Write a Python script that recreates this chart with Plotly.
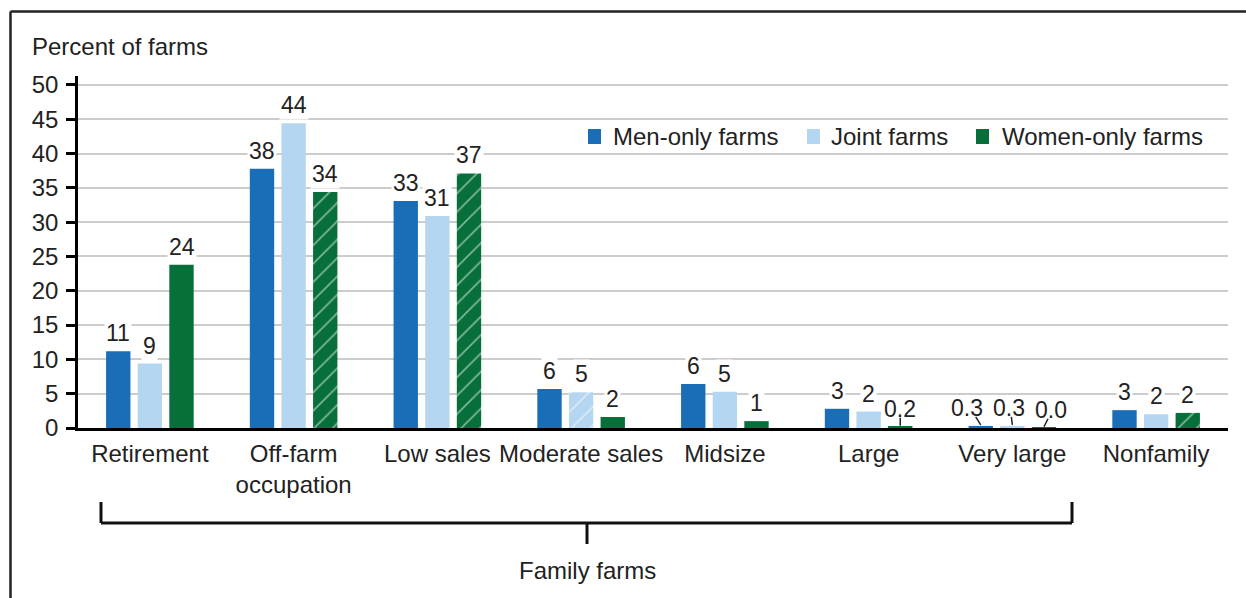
import plotly.graph_objects as go

# ---- data -------------------------------------------------------------
categories = ["Retirement", "Off-farm<br>occupation", "Low sales", "Moderate sales",
              "Midsize", "Large", "Very large", "Nonfamily"]
series_names = ["Men-only farms", "Joint farms", "Women-only farms"]
men_only = [11.2, 37.8, 33.1, 5.7, 6.4, 2.8, 0.3, 2.6]
joint = [9.4, 44.4, 30.9, 5.2, 5.3, 2.4, 0.3, 2.0]
women_only = [23.8, 34.4, 37.1, 1.6, 1.0, 0.2, 0.04, 2.2]
# bars drawn with a diagonal hatch
men_hatch = ["", "", "", "", "", "", "", ""]
joint_hatch = ["", "", "", "/", "", "", "", ""]
women_hatch = ["", "/", "/", "", "", "", "", "/"]
y_ticks = [0, 5, 10, 15, 20, 25, 30, 35, 40, 45, 50]

# ---- styling ----------------------------------------------------------
colors = ["#1a6db7", "#b4d6f0", "#07703a"]
FONT = "Liberation Sans, Arial, sans-serif"
TXT = "#222222"
FS_LABEL = 23   # value labels
FS_TEXT = 24    # axis text, legend, bracket caption

W, H = 1246, 598
L, R, T, B = 78, 18, 76, 170
PW, PH = W - L - R, H - T - B
Y_MAX = 51.3
BARGAP = 0.34
STEP = (1 - BARGAP) / 3  # distance between bar centres within a group


def px_x(px):
    return (px - L) / PW


def px_y(py):
    return (H - B - py) / PH


fig = go.Figure()
values = [men_only, joint, women_only]
hatches = [men_hatch, joint_hatch, women_hatch]
xs = list(range(len(categories)))
for name, vals, hatch, col in zip(series_names, values, hatches, colors):
    fig.add_trace(go.Bar(
        x=xs, y=vals, name=name, showlegend=False,
        marker=dict(color=col, line=dict(width=0),
                    pattern=dict(shape=hatch, fgcolor="white", size=13,
                                 solidity=0.12, fillmode="overlay")),
        hoverinfo="skip",
    ))


def fmt(v):
    return f"{v:.1f}" if v < 0.95 else f"{v:.0f}"


# small values get nudged labels with a short leader to the bar
# (series index, category index): (label dx, leader top dx)
nudges = {(2, 5): (0, 0), (0, 6): (-14, -5), (1, 6): (-3, -1), (2, 6): (7, 4)}

annotations = []
shapes = []
for j, vals in enumerate(values):
    for i, v in enumerate(vals):
        xc = i + (j - 1) * STEP
        small = v < 0.95
        dx, ldx = nudges.get((j, i), (0, 0))
        annotations.append(dict(
            x=xc, y=v, xref="x", yref="y", text=fmt(v), showarrow=False,
            xanchor="center", yanchor="bottom", yshift=3, xshift=dx,
            font=dict(family=FONT, size=FS_LABEL, color=TXT),
            bgcolor="rgba(0,0,0,0)" if small else "white", borderpad=1,
        ))
        if small:
            shapes.append(dict(
                type="line", xref="x", yref="y",
                xsizemode="pixel", xanchor=xc, x0=0, x1=ldx,
                ysizemode="pixel", yanchor=v, y0=1, y1=9,
                line=dict(color=TXT, width=1.5),
            ))

# axis title
annotations.append(dict(
    x=px_x(30), y=px_y(46), xref="paper", yref="paper", text="Percent of farms",
    showarrow=False, xanchor="left", yanchor="middle",
    font=dict(family=FONT, size=FS_TEXT, color=TXT),
))

# legend
legend_items = [(588, 611), (807, 829), (976, 1000)]
for (sq_x, tx), name, col in zip(legend_items, series_names, colors):
    shapes.append(dict(type="rect", xref="paper", yref="paper",
                       x0=px_x(sq_x), x1=px_x(sq_x + 13),
                       y0=px_y(144), y1=px_y(129),
                       fillcolor=col, line=dict(width=0)))
    annotations.append(dict(
        x=px_x(tx), y=px_y(136), xref="paper", yref="paper", text=name,
        showarrow=False, xanchor="left", yanchor="middle",
        font=dict(family=FONT, size=FS_TEXT, color=TXT),
    ))

# family farms bracket
bk = dict(color="#111111", width=3)
for x0, y0, x1, y1 in [(101, 502, 101, 523), (101, 523, 1072, 523),
                       (1072, 502, 1072, 523), (587, 523, 587, 544)]:
    shapes.append(dict(type="line", xref="paper", yref="paper",
                       x0=px_x(x0), y0=px_y(y0), x1=px_x(x1), y1=px_y(y1), line=bk))
annotations.append(dict(
    x=px_x(587), y=px_y(570), xref="paper", yref="paper", text="Family farms",
    showarrow=False, xanchor="center", yanchor="middle",
    font=dict(family=FONT, size=FS_TEXT, color=TXT),
))

# outer frame (top and left edges)
fr = dict(color="#222222", width=2.5)
shapes.append(dict(type="line", xref="paper", yref="paper",
                   x0=px_x(10.5), y0=px_y(11.5), x1=px_x(W + 5), y1=px_y(11.5), line=fr))
shapes.append(dict(type="line", xref="paper", yref="paper",
                   x0=px_x(10.5), y0=px_y(11.5), x1=px_x(10.5), y1=px_y(H + 5), line=fr))

fig.update_layout(
    width=W, height=H,
    margin=dict(l=L, r=R, t=T, b=B, pad=0),
    paper_bgcolor="white", plot_bgcolor="white",
    barmode="group", bargap=BARGAP, bargroupgap=0.23,
    font=dict(family=FONT, size=FS_TEXT, color=TXT),
    annotations=annotations, shapes=shapes,
    xaxis=dict(
        range=[-0.5, len(categories) - 0.5], tickvals=xs, ticktext=categories,
        showgrid=False, zeroline=False, showline=True, linecolor="black", linewidth=3,
        ticks="", ticklabelstandoff=2,
        tickfont=dict(family=FONT, size=FS_TEXT, color=TXT), fixedrange=True,
    ),
    yaxis=dict(
        range=[0, Y_MAX], tickvals=y_ticks, showgrid=True, gridcolor="#cccccc", gridwidth=1.5,
        zeroline=False, showline=True, linecolor="black", linewidth=2.5,
        ticks="outside", ticklen=9, tickwidth=2.5, tickcolor="black", ticklabelstandoff=3,
        tickfont=dict(family=FONT, size=FS_TEXT, color=TXT), fixedrange=True,
    ),
)

fig.write_html("out.html", config={"displayModeBar": False})
